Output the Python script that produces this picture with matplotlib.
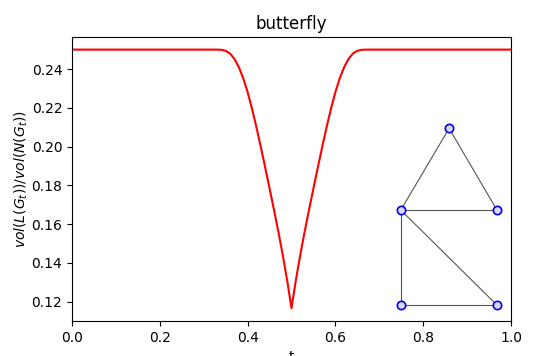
import numpy as np
import matplotlib
matplotlib.use("Agg")
import matplotlib.pyplot as plt

# left half of the curve, mirrored around t = 0.5
t_half = [0.0, 0.33, 0.34, 0.35, 0.36, 0.37, 0.38, 0.39, 0.40, 0.41, 0.42,
          0.43, 0.44, 0.45, 0.46, 0.47, 0.48, 0.49, 0.50]
y_half = [0.25, 0.25, 0.2499, 0.2494, 0.2480, 0.2452, 0.2410, 0.2353, 0.2281,
          0.2196, 0.2101, 0.1999, 0.1893, 0.1785, 0.1675, 0.1562, 0.1442,
          0.1312, 0.1167]

t = np.array(t_half + [1.0 - v for v in t_half[-2::-1]])
y = np.array(y_half + y_half[-2::-1])

# butterfly graph drawn on top (data coordinates of the main axes)
node_x = [0.859, 0.749, 0.968, 0.749, 0.968]
node_y = [0.2094, 0.1673, 0.1673, 0.1183, 0.1183]
edges = [(0, 1), (0, 2), (1, 2), (1, 3), (1, 4), (3, 4)]

fig = plt.figure(figsize=(5.35, 3.56), dpi=100)
ax = fig.add_axes([72 / 535, 35 / 356, 439 / 535, 284 / 356])

ax.plot(t, y, color="red", linewidth=1.5)

for a, b in edges:
    ax.plot([node_x[a], node_x[b]], [node_y[a], node_y[b]],
            color="#555555", linewidth=0.8, zorder=3)
ax.scatter(node_x, node_y, s=36, facecolor="#d8d8ff", edgecolor="blue",
           linewidth=1.2, zorder=4)

ax.set_xlim(0, 1)
ax.set_ylim(0.1101, 0.2565)
ax.set_yticks([0.12, 0.14, 0.16, 0.18, 0.20, 0.22, 0.24])
ax.set_title("butterfly")
ax.set_xlabel("t")
ax.set_ylabel("$vol(L(G_t))/vol(N(G_t))$", labelpad=1)

fig.savefig("out.png", dpi=100)
